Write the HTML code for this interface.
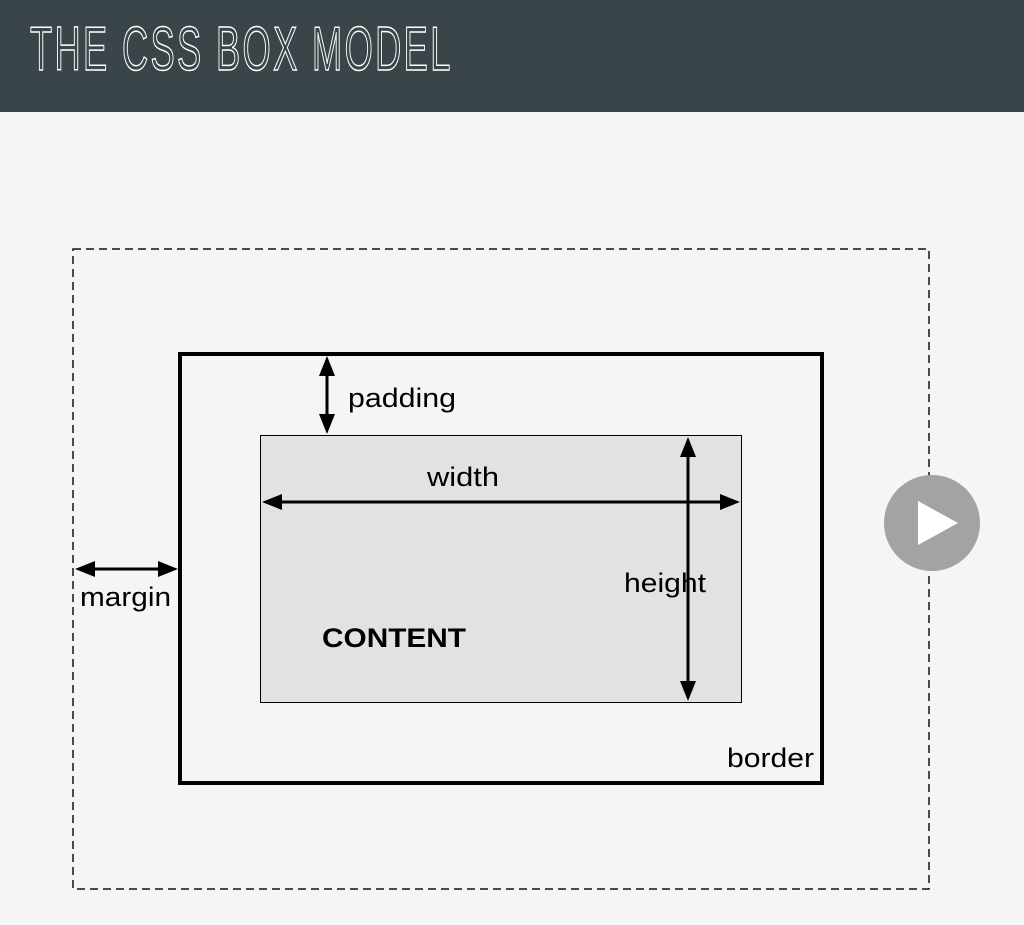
<!DOCTYPE html>
<html><head><style>
body{margin:0;width:1024px;height:925px;background:#f5f5f5;overflow:hidden;font-family:"Liberation Sans",sans-serif}
.hdr{position:absolute;left:0;top:0;width:1024px;height:112px;background:#3a4549}
.t{position:absolute;left:30px;top:14px;font-size:62px;color:transparent;-webkit-text-stroke:1.5px #fff;transform:scaleX(0.585);transform-origin:left top;letter-spacing:4px;white-space:nowrap;font-family:"Liberation Sans Narrow","Liberation Sans",sans-serif}
</style></head><body>
<div class="hdr"><div class="t">THE CSS BOX MODEL</div></div>
<svg width="1024" height="925" style="position:absolute;left:0;top:0">
<rect x="73" y="249" width="856" height="640" fill="none" stroke="#111" stroke-width="1.5" stroke-dasharray="8,5"/>
<rect x="180" y="354" width="642" height="429" fill="none" stroke="#000" stroke-width="4"/>
<rect x="260.5" y="435.5" width="481" height="267" fill="#e2e2e2" stroke="#000" stroke-width="1"/>
<g stroke="#000" stroke-width="3" fill="#000">
<line x1="327" y1="372" x2="327" y2="418"/>
<path d="M319,376L327,356L335,376z" stroke="none"/><path d="M319,414L327,434L335,414z" stroke="none"/>
<line x1="280" y1="502" x2="722" y2="502"/>
<path d="M282,494L262,502L282,510z" stroke="none"/><path d="M720,494L740,502L720,510z" stroke="none"/>
<line x1="688" y1="455" x2="688" y2="683"/>
<path d="M680,457L688,437L696,457z" stroke="none"/><path d="M680,681L688,701L696,681z" stroke="none"/>
<line x1="92" y1="569" x2="161" y2="569"/>
<path d="M95,561L75,569L95,577z" stroke="none"/><path d="M158,561L178,569L158,577z" stroke="none"/>
</g>
<g font-family="Liberation Sans,sans-serif" font-size="27" fill="#000">
<text x="348" y="407" textLength="108" lengthAdjust="spacingAndGlyphs">padding</text>
<text x="427" y="486" textLength="72" lengthAdjust="spacingAndGlyphs">width</text>
<text x="624" y="592" textLength="82" lengthAdjust="spacingAndGlyphs">height</text>
<text x="80" y="606" textLength="91" lengthAdjust="spacingAndGlyphs">margin</text>
<text x="727" y="767" textLength="87" lengthAdjust="spacingAndGlyphs">border</text>
<text x="322" y="647" font-weight="bold" textLength="144" lengthAdjust="spacingAndGlyphs">CONTENT</text>
</g>
<circle cx="932" cy="523" r="48" fill="#a3a3a3"/>
<path d="M918,501L958,523L918,545z" fill="#fff"/>
</svg>
</body></html>
